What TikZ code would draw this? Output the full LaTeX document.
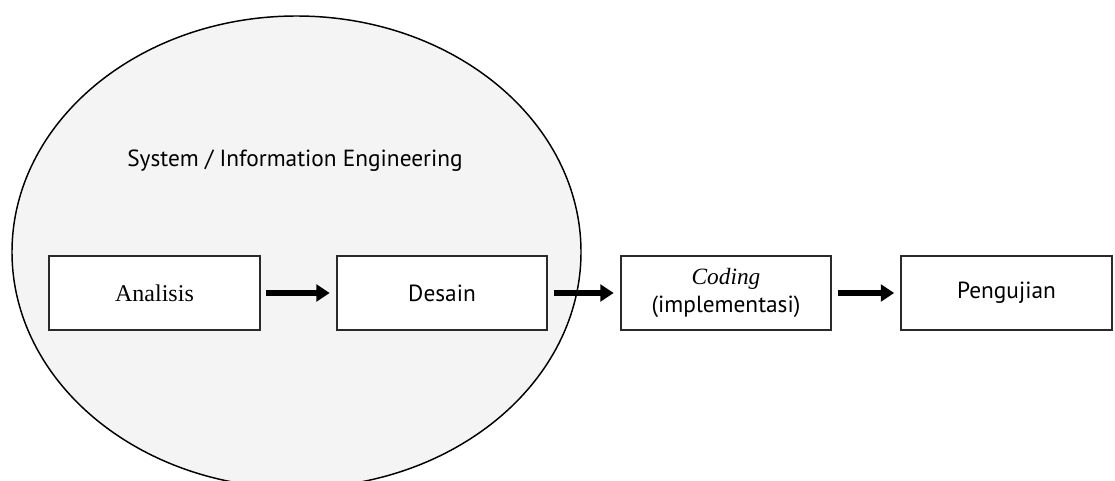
\documentclass[tikz,border=0pt]{standalone}
\usepackage{fontspec}
\setmainfont{Liberation Serif}
\setsansfont{PT Sans}
\usepackage{tikz}
\usetikzlibrary{arrows.meta, positioning, shapes.geometric}

\definecolor{ovalgray}{HTML}{F4F4F4}
\definecolor{edgegray}{HTML}{2A2A2A}

\begin{document}
\begin{tikzpicture}[
    x=0.75pt, y=0.75pt,
    font=\sffamily\fontsize{17.5}{21}\selectfont,
    oval/.style={ellipse, draw=black, fill=ovalgray, line width=1.1pt, inner sep=0pt, minimum width=426.75pt, minimum height=354pt},
    phase/.style={draw=edgegray, fill=white, line width=1.5pt, inner sep=0pt, align=center, minimum width=158pt, minimum height=55.5pt},
    arrow/.style={-{Triangle[length=10pt, width=12.5pt]}, line width=4.2pt, black, shorten <=4pt, shorten >=4.5pt}
]
\useasboundingbox (0,0) rectangle (1115,480);

% Nodes
\node[oval] (sysinfo) at (296.5, 228) {};
\node (title) at (295, 319) {System / Information Engineering};

\node[phase, font=\rmfamily\fontsize{18}{21}\selectfont] (analisis) at (154.5, 187) {Analisis};
\node[phase] (desain) at (442, 187) {Desain};
\node[phase] (coding) at (726, 187) {{\rmfamily\itshape Coding}\\(implementasi)};
\node[phase] (uji) at (1006.5, 187) {Pengujian};

% Arrows
\draw[arrow] (analisis) -- (desain);
\draw[arrow] (desain) -- (coding);
\draw[arrow] (coding) -- (uji);

\end{tikzpicture}
\end{document}
